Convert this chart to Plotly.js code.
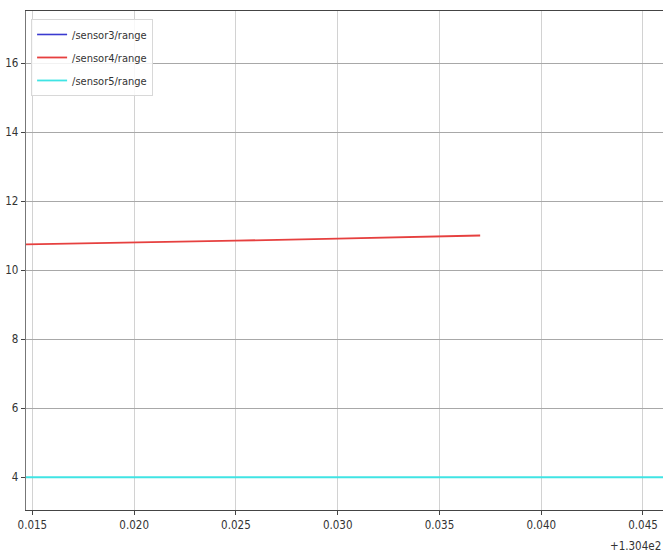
<!DOCTYPE html>
<html>
<head>
<meta charset="utf-8">
<script src="https://cdn.plot.ly/plotly-3.0.1.min.js"></script>
<style>html,body{margin:0;padding:0;background:#fff;overflow:hidden;}</style>
</head>
<body>
<div id="chart" style="width:663px;height:554px;"></div>
<script>
// x values are offsets from 130.4 (axis offset text "+1.304e2")
const xOffsetLabel = "+1.304e2";
const seriesNames = ["/sensor3/range", "/sensor4/range", "/sensor5/range"];
const sensor3X = [null];
const sensor3Y = [null];
const sensor4X = [0.0146, 0.0200, 0.0250, 0.0300, 0.0370];
const sensor4Y = [10.75, 10.80, 10.86, 10.92, 11.01];
const sensor5X = [0.0140, 0.0470];
const sensor5Y = [4.0, 4.0];
const xTicks = [0.015, 0.020, 0.025, 0.030, 0.035, 0.040, 0.045];
const yTicks = [4, 6, 8, 10, 12, 14, 16];

const font = {family: "DejaVu Sans Condensed, DejaVu Sans, sans-serif", size: 11.5, color: "#333"};

const traces = [
  {x: sensor3X, y: sensor3Y, name: seriesNames[0], legendgroup: "a", mode: "lines", line: {color: "#3a3ad0", width: 1.6}},
  {x: sensor4X, y: sensor4Y, name: seriesNames[1], legendgroup: "b", mode: "lines", line: {color: "#e6403f", width: 1.8}},
  {x: sensor5X, y: sensor5Y, name: seriesNames[2], legendgroup: "c", mode: "lines", line: {color: "#40e4e4", width: 1.8}}
];

const layout = {
  width: 663, height: 554,
  margin: {l: 26, r: 0, t: 11, b: 44},
  paper_bgcolor: "#fff", plot_bgcolor: "#fff",
  font: font,
  showlegend: true,
  legend: {
    x: 0.008, y: 0.984, xanchor: "left", yanchor: "top",
    bgcolor: "rgba(255,255,255,0.85)", bordercolor: "#d8d8d8", borderwidth: 1,
    font: {family: font.family, size: 11, color: "#333"},
    itemwidth: 30, tracegroupgap: 4
  },
  xaxis: {
    range: [0.014686, 0.045983],
    tickmode: "array", tickvals: xTicks, ticktext: xTicks.map(v => v.toFixed(3)),
    showgrid: true, gridcolor: "#d2d2d2", gridwidth: 1,
    zeroline: false,
    showline: true, linecolor: "#444", linewidth: 1.3, mirror: true,
    ticks: "outside", ticklen: 4, tickcolor: "#444",
    tickfont: font
  },
  yaxis: {
    range: [3.05, 17.52],
    tickmode: "array", tickvals: yTicks, ticktext: yTicks.map(String),
    showgrid: true, gridcolor: "#a8a8a8", gridwidth: 1.3,
    zeroline: false,
    showline: true, linecolor: "#777", linewidth: 1.3,
    ticks: "outside", ticklen: 4, tickcolor: "#444",
    tickfont: font
  },
  annotations: [{
    text: xOffsetLabel, xref: "paper", yref: "paper", x: 1, y: 0,
    xanchor: "right", yanchor: "top", yshift: -27, showarrow: false,
    font: font
  }]
};

Plotly.newPlot("chart", traces, layout, {displayModeBar: false, staticPlot: true});
</script>
</body>
</html>
